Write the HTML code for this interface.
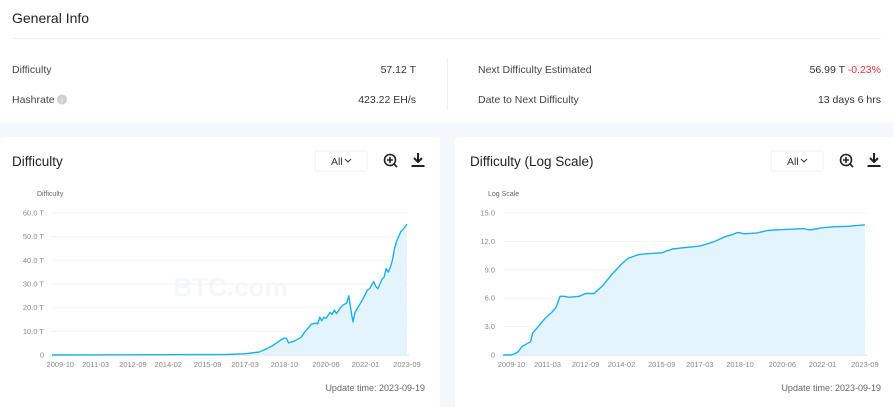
<!DOCTYPE html>
<html><head><meta charset="utf-8">
<style>
body{margin:0;width:893px;height:407px;overflow:hidden;background:#f4f7fb;font-family:"Liberation Sans",sans-serif;}
svg{display:block}
</style></head>
<body>
<svg id="page" width="893" height="407" xmlns="http://www.w3.org/2000/svg" font-family="Liberation Sans, sans-serif">
  <rect x="0" y="0" width="893" height="122" fill="#ffffff"/>
  <text x="12" y="23" font-size="14" fill="#222">General Info</text>
  <line x1="12" y1="38.5" x2="881" y2="38.5" stroke="#eeeeee"/>
  <text x="12" y="73" font-size="10.5" fill="#444">Difficulty</text>
  <text x="416" y="73" font-size="10.5" fill="#333" text-anchor="end">57.12 T</text>
  <text x="12" y="103" font-size="10.5" fill="#444">Hashrate</text>
  <circle cx="62" cy="99.5" r="5" fill="#cfcfcf"/>
  <text x="62" y="102.5" font-size="7" fill="#fff" text-anchor="middle">i</text>
  <text x="416" y="103" font-size="10.5" fill="#333" text-anchor="end">423.22 EH/s</text>
  <line x1="447.5" y1="58" x2="447.5" y2="110" stroke="#eeeeee"/>
  <text x="478" y="73" font-size="10.5" fill="#444">Next Difficulty Estimated</text>
  <text x="881" y="73" font-size="10.5" text-anchor="end"><tspan fill="#333">56.99 T </tspan><tspan fill="#e0343a">-0.23%</tspan></text>
  <text x="478" y="103" font-size="10.5" fill="#444">Date to Next Difficulty</text>
  <text x="881" y="103" font-size="10.5" fill="#333" text-anchor="end">13 days 6 hrs</text>

  <rect x="0" y="137" width="440" height="280" rx="4" fill="#ffffff"/>
  <rect x="455" y="137" width="445" height="280" rx="4" fill="#ffffff"/>
  <g id="c1"></g>
  <g id="c2"></g>
</svg>
<script>
const NS="http://www.w3.org/2000/svg";
// Difficulty chart data (trillions)
const diffDates=["2009-06","2016-06","2017-03","2017-10","2018-01","2018-04","2018-06","2018-08","2018-10","2018-11","2018-12","2019-03","2019-06","2019-08","2019-09","2019-11","2020-01","2020-02","2020-03","2020-04","2020-05","2020-06","2020-08","2020-09","2020-10","2020-11","2021-01","2021-02","2021-03","2021-04","2021-05","2021-06","2021-07","2021-08","2021-10","2021-12","2022-02","2022-03","2022-05","2022-06","2022-07","2022-08","2022-09","2022-10","2022-11","2022-12","2023-01","2023-02","2023-03","2023-04","2023-05","2023-06","2023-07","2023-08","2023-09"];
const diffValues=[0,0.2,0.5,1.3,2.5,3.8,5,6.2,7.2,7,5.1,6,7.5,10,11,13,13.5,13.2,16,14.5,16,15.5,18,17.2,19,17.5,20,21,21.5,22,25,19,14,18,21,24,27.5,28,31,29,28,30,32,33,36.5,35,37,40,45,48,50,52,53,54,55.3];
const diffTicks=["0","10.0 T","20.0 T","30.0 T","40.0 T","50.0 T","60.0 T"];
const diffTickVals=[0,10,20,30,40,50,60];
// Log-scale chart data (log10 of difficulty)
const logDates=["2009-06","2009-10","2010-01","2010-03","2010-07","2010-08","2010-11","2011-02","2011-05","2011-07","2011-09","2011-11","2012-01","2012-06","2012-09","2013-01","2013-03","2013-05","2013-09","2014-02","2014-05","2014-10","2015-02","2015-06","2015-09","2016-02","2016-08","2017-03","2017-06","2017-10","2018-03","2018-06","2018-09","2018-12","2019-06","2019-11","2020-06","2020-12","2021-04","2021-07","2022-01","2022-07","2023-01","2023-09"];
const logValues=[0,0,0.3,0.9,1.4,2.3,3.1,3.9,4.5,5,6.2,6.2,6.1,6.2,6.5,6.5,6.9,7.3,8.4,9.6,10.2,10.6,10.7,10.75,10.8,11.2,11.35,11.5,11.7,12.0,12.5,12.7,12.95,12.8,12.9,13.15,13.25,13.3,13.35,13.2,13.45,13.55,13.6,13.75];
const logTicks=["0","3.0","6.0","9.0","12.0","15.0"];
const logTickVals=[0,3,6,9,12,15];
const xTicks=["2009-10","2011-03","2012-09","2014-02","2015-09","2017-03","2018-10","2020-06","2022-01","2023-09"];

function mon(s){const p=s.split("-");return (+p[0]-2009)*12+(+p[1]-6);}
function el(parent,tag,attrs,text){const e=document.createElementNS(NS,tag);for(const k in attrs)e.setAttribute(k,attrs[k]);if(text!==undefined)e.textContent=text;parent.appendChild(e);return e;}

function chart(g,o){
  const {x0,x1,y0,y1,ymax,dates,values,ticks,tickVals,title,axisTitle,cardX,cardR}=o;
  const xs=m=>x0+(m)*(x1-x0)/172;
  const ys=v=>y0-(v/ymax)*(y0-y1);
  let t=el(g,"text",{x:cardX+12,y:166,"font-size":13.5,fill:"#222"},title);
  
  
  let sel=el(g,"rect",{x:cardR-122,y:151,width:52,height:20,fill:"#fff",stroke:"#eceff3",rx:2});
  
  
  let st=el(g,"text",{x:cardR-106,y:165,"font-size":10.5,fill:"#333"},"All");
  
  
  let ch=el(g,"path",{d:`M${cardR-92} ${159} l3 3 l3 -3`,fill:"none",stroke:"#333","stroke-width":1});
  
  
  let zi=el(g,"g",{});
  
  
  el(zi,"circle",{cx:cardR-47,cy:160,r:5.5,fill:"none",stroke:"#222","stroke-width":1.6});
  el(zi,"path",{d:`M${cardR-50} 160 h6 M${cardR-47} 157 v6 M${cardR-43} 164 l3 3`,stroke:"#222","stroke-width":1.6});
  let di=el(g,"g",{});
  
  
  el(di,"path",{d:`M${cardR-19} 153 v8 M${cardR-23} 158 l4 4 l4 -4`,stroke:"#222","stroke-width":2,fill:"none"});
  el(di,"path",{d:`M${cardR-25.5} 166 h13`,stroke:"#222","stroke-width":2});
  let at=el(g,"text",{x:x0-15,y:196,"font-size":7,fill:"#666"},axisTitle);
  
  
  tickVals.forEach((v,i)=>{
    let gl=el(g,"line",{x1:x0,x2:x1,y1:ys(v),y2:ys(v),stroke:i==0?"#d5dbe3":"#f0f2f5","stroke-width":1});
    
    
    let tl=el(g,"text",{x:x0-8,y:ys(v)+2.5,"font-size":7.5,fill:"#888","text-anchor":"end"},ticks[i]);
    
    
  });
  xTicks.forEach(s=>{
    let tl=el(g,"text",{x:xs(mon(s)),y:y0+12,"font-size":7.5,fill:"#888","text-anchor":"middle"},s);
    
    
  });
  let wm=el(g,"text",{x:(x0+x1)/2,y:(y0+y1)/2+12,"font-size":26,"font-weight":"bold",fill:"#f4f6f9","text-anchor":"middle"},"BTC.com");
  
  
  const pts=dates.map((d,i)=>[xs(mon(d)),ys(values[i])]);
  const line=pts.map((p,i)=>(i?"L":"M")+p[0].toFixed(1)+" "+p[1].toFixed(1)).join(" ");
  let ar=el(g,"path",{d:line+` L${pts[pts.length-1][0]} ${y0} L${pts[0][0]} ${y0} Z`,fill:"#e3f4fc"});
  
  
  let ln=el(g,"path",{d:line,fill:"none",stroke:"#1ab0ec","stroke-width":1.4,"stroke-linejoin":"round"});
  
  
  let ut=el(g,"text",{x:cardR-12,y:391,"font-size":9,fill:"#666","text-anchor":"end"},"Update time: 2023-09-19");
  
  
}
chart(document.getElementById("c1"),{x0:52,x1:409,y0:355,y1:213,ymax:60,dates:diffDates,values:diffValues,ticks:diffTicks,tickVals:diffTickVals,title:"Difficulty",axisTitle:"Difficulty",cardX:0,cardR:437});
chart(document.getElementById("c2"),{x0:503,x1:867,y0:355,y1:213,ymax:15,dates:logDates,values:logValues,ticks:logTicks,tickVals:logTickVals,title:"Difficulty (Log Scale)",axisTitle:"Log Scale",cardX:458,cardR:893});
</script>
</body></html>
